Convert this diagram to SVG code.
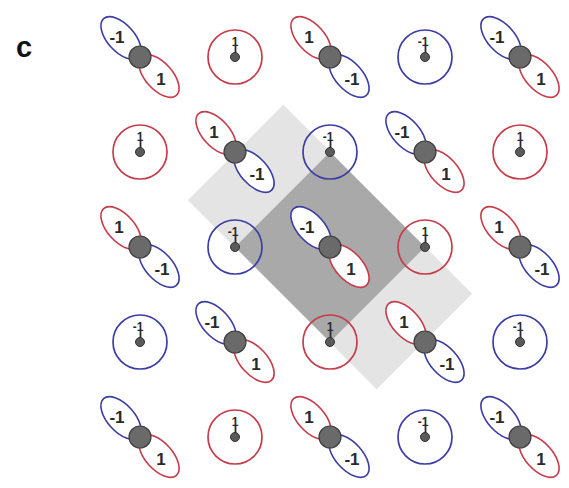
<svg xmlns="http://www.w3.org/2000/svg" width="569" height="488" viewBox="0 0 569 488">
  <defs>
    <style>
      .lr { fill: #ffffff; stroke: #c63c4a; stroke-width: 1.6; }
      .lb { fill: #ffffff; stroke: #3d3da6; stroke-width: 1.6; }
      .rr { fill: none; stroke: #c63c4a; stroke-width: 1.7; }
      .rb { fill: none; stroke: #3d3da6; stroke-width: 1.7; }
      .atom { fill: #6a6a6a; stroke: #3e3e3e; stroke-width: 1.2; }
      .dot { fill: #5a5a5a; stroke: #333333; stroke-width: 1; }
      .stem { stroke: #2a2a2a; stroke-width: 1.8; }
      .t { font-family: "Liberation Sans", Arial, sans-serif; font-size: 17px; font-weight: bold; fill: #2a2a2a; text-anchor: middle; }
      .s { font-family: "Liberation Sans", Arial, sans-serif; font-size: 12px; font-weight: bold; fill: #2a2a2a; text-anchor: end; }
    </style>
  </defs>

  <!-- panel letter -->
  <text x="16" y="57" font-family="Liberation Sans, Arial, sans-serif" font-size="29" font-weight="bold" fill="#111">c</text>

  <!-- shaded cells -->
  <g id="cells">
    <rect x="-133.5" y="-67.5" width="267" height="135" fill="#e4e4e4" transform="translate(330,247) rotate(45)"/>
    <polygon points="330,152 425,247 330,342 235,247" fill="#a9a9a9"/>
  </g>

  <!-- row 1 -->
  <g id="n00" transform="translate(140,57)">
    <ellipse class="lb" rx="26" ry="13.5" transform="translate(-19,-19) rotate(48)"/>
    <ellipse class="lr" rx="26" ry="13.5" transform="translate(19,19) rotate(48)"/>
    <circle class="atom" r="11"/>
    <text class="t" x="-23" y="-14">-1</text>
    <text class="t" x="21" y="28">1</text>
  </g>
  <g id="n01" transform="translate(235,57)">
    <circle class="rr" r="27"/>
    <line class="stem" x1="0.5" y1="-12" x2="0.5" y2="-3"/>
    <circle class="dot" r="4.5"/>
    <text class="s" x="3.5" y="-11">1</text>
  </g>
  <g id="n02" transform="translate(330,57)">
    <ellipse class="lr" rx="26" ry="13.5" transform="translate(-19,-19) rotate(48)"/>
    <ellipse class="lb" rx="26" ry="13.5" transform="translate(19,19) rotate(48)"/>
    <circle class="atom" r="11"/>
    <text class="t" x="-21" y="-14">1</text>
    <text class="t" x="22" y="28">-1</text>
  </g>
  <g id="n03" transform="translate(425,57)">
    <circle class="rb" r="27"/>
    <line class="stem" x1="0.5" y1="-12" x2="0.5" y2="-3"/>
    <circle class="dot" r="4.5"/>
    <text class="s" x="3.5" y="-11">-1</text>
  </g>
  <g id="n04" transform="translate(520,57)">
    <ellipse class="lb" rx="26" ry="13.5" transform="translate(-19,-19) rotate(48)"/>
    <ellipse class="lr" rx="26" ry="13.5" transform="translate(19,19) rotate(48)"/>
    <circle class="atom" r="11"/>
    <text class="t" x="-23" y="-14">-1</text>
    <text class="t" x="21" y="28">1</text>
  </g>

  <!-- row 2 -->
  <g id="n10" transform="translate(140,152)">
    <circle class="rr" r="27"/>
    <line class="stem" x1="0.5" y1="-12" x2="0.5" y2="-3"/>
    <circle class="dot" r="4.5"/>
    <text class="s" x="3.5" y="-11">1</text>
  </g>
  <g id="n11" transform="translate(235,152)">
    <ellipse class="lr" rx="26" ry="13.5" transform="translate(-19,-19) rotate(48)"/>
    <ellipse class="lb" rx="26" ry="13.5" transform="translate(19,19) rotate(48)"/>
    <circle class="atom" r="11"/>
    <text class="t" x="-21" y="-14">1</text>
    <text class="t" x="22" y="28">-1</text>
  </g>
  <g id="n12" transform="translate(330,152)">
    <circle class="rb" r="27"/>
    <line class="stem" x1="0.5" y1="-12" x2="0.5" y2="-3"/>
    <circle class="dot" r="4.5"/>
    <text class="s" x="3.5" y="-11">-1</text>
  </g>
  <g id="n13" transform="translate(425,152)">
    <ellipse class="lb" rx="26" ry="13.5" transform="translate(-19,-19) rotate(48)"/>
    <ellipse class="lr" rx="26" ry="13.5" transform="translate(19,19) rotate(48)"/>
    <circle class="atom" r="11"/>
    <text class="t" x="-23" y="-14">-1</text>
    <text class="t" x="21" y="28">1</text>
  </g>
  <g id="n14" transform="translate(520,152)">
    <circle class="rr" r="27"/>
    <line class="stem" x1="0.5" y1="-12" x2="0.5" y2="-3"/>
    <circle class="dot" r="4.5"/>
    <text class="s" x="3.5" y="-11">1</text>
  </g>

  <!-- row 3 -->
  <g id="n20" transform="translate(140,247)">
    <ellipse class="lr" rx="26" ry="13.5" transform="translate(-19,-19) rotate(48)"/>
    <ellipse class="lb" rx="26" ry="13.5" transform="translate(19,19) rotate(48)"/>
    <circle class="atom" r="11"/>
    <text class="t" x="-21" y="-14">1</text>
    <text class="t" x="22" y="28">-1</text>
  </g>
  <g id="n21" transform="translate(235,247)">
    <circle class="rb" r="27"/>
    <line class="stem" x1="0.5" y1="-12" x2="0.5" y2="-3"/>
    <circle class="dot" r="4.5"/>
    <text class="s" x="3.5" y="-11">-1</text>
  </g>
  <g id="n22" transform="translate(330,247)">
    <ellipse class="lb" rx="26" ry="13.5" transform="translate(-19,-19) rotate(48)"/>
    <ellipse class="lr" rx="26" ry="13.5" transform="translate(19,19) rotate(48)"/>
    <circle class="atom" r="11"/>
    <text class="t" x="-23" y="-14">-1</text>
    <text class="t" x="21" y="28">1</text>
  </g>
  <g id="n23" transform="translate(425,247)">
    <circle class="rr" r="27"/>
    <line class="stem" x1="0.5" y1="-12" x2="0.5" y2="-3"/>
    <circle class="dot" r="4.5"/>
    <text class="s" x="3.5" y="-11">1</text>
  </g>
  <g id="n24" transform="translate(520,247)">
    <ellipse class="lr" rx="26" ry="13.5" transform="translate(-19,-19) rotate(48)"/>
    <ellipse class="lb" rx="26" ry="13.5" transform="translate(19,19) rotate(48)"/>
    <circle class="atom" r="11"/>
    <text class="t" x="-21" y="-14">1</text>
    <text class="t" x="22" y="28">-1</text>
  </g>

  <!-- row 4 -->
  <g id="n30" transform="translate(140,342)">
    <circle class="rb" r="27"/>
    <line class="stem" x1="0.5" y1="-12" x2="0.5" y2="-3"/>
    <circle class="dot" r="4.5"/>
    <text class="s" x="3.5" y="-11">-1</text>
  </g>
  <g id="n31" transform="translate(235,342)">
    <ellipse class="lb" rx="26" ry="13.5" transform="translate(-19,-19) rotate(48)"/>
    <ellipse class="lr" rx="26" ry="13.5" transform="translate(19,19) rotate(48)"/>
    <circle class="atom" r="11"/>
    <text class="t" x="-23" y="-14">-1</text>
    <text class="t" x="21" y="28">1</text>
  </g>
  <g id="n32" transform="translate(330,342)">
    <circle class="rr" r="27"/>
    <line class="stem" x1="0.5" y1="-12" x2="0.5" y2="-3"/>
    <circle class="dot" r="4.5"/>
    <text class="s" x="3.5" y="-11">1</text>
  </g>
  <g id="n33" transform="translate(425,342)">
    <ellipse class="lr" rx="26" ry="13.5" transform="translate(-19,-19) rotate(48)"/>
    <ellipse class="lb" rx="26" ry="13.5" transform="translate(19,19) rotate(48)"/>
    <circle class="atom" r="11"/>
    <text class="t" x="-21" y="-14">1</text>
    <text class="t" x="22" y="28">-1</text>
  </g>
  <g id="n34" transform="translate(520,342)">
    <circle class="rb" r="27"/>
    <line class="stem" x1="0.5" y1="-12" x2="0.5" y2="-3"/>
    <circle class="dot" r="4.5"/>
    <text class="s" x="3.5" y="-11">-1</text>
  </g>

  <!-- row 5 -->
  <g id="n40" transform="translate(140,437)">
    <ellipse class="lb" rx="26" ry="13.5" transform="translate(-19,-19) rotate(48)"/>
    <ellipse class="lr" rx="26" ry="13.5" transform="translate(19,19) rotate(48)"/>
    <circle class="atom" r="11"/>
    <text class="t" x="-23" y="-14">-1</text>
    <text class="t" x="21" y="28">1</text>
  </g>
  <g id="n41" transform="translate(235,437)">
    <circle class="rr" r="27"/>
    <line class="stem" x1="0.5" y1="-12" x2="0.5" y2="-3"/>
    <circle class="dot" r="4.5"/>
    <text class="s" x="3.5" y="-11">1</text>
  </g>
  <g id="n42" transform="translate(330,437)">
    <ellipse class="lr" rx="26" ry="13.5" transform="translate(-19,-19) rotate(48)"/>
    <ellipse class="lb" rx="26" ry="13.5" transform="translate(19,19) rotate(48)"/>
    <circle class="atom" r="11"/>
    <text class="t" x="-21" y="-14">1</text>
    <text class="t" x="22" y="28">-1</text>
  </g>
  <g id="n43" transform="translate(425,437)">
    <circle class="rb" r="27"/>
    <line class="stem" x1="0.5" y1="-12" x2="0.5" y2="-3"/>
    <circle class="dot" r="4.5"/>
    <text class="s" x="3.5" y="-11">-1</text>
  </g>
  <g id="n44" transform="translate(520,437)">
    <ellipse class="lb" rx="26" ry="13.5" transform="translate(-19,-19) rotate(48)"/>
    <ellipse class="lr" rx="26" ry="13.5" transform="translate(19,19) rotate(48)"/>
    <circle class="atom" r="11"/>
    <text class="t" x="-23" y="-14">-1</text>
    <text class="t" x="21" y="28">1</text>
  </g>
</svg>
